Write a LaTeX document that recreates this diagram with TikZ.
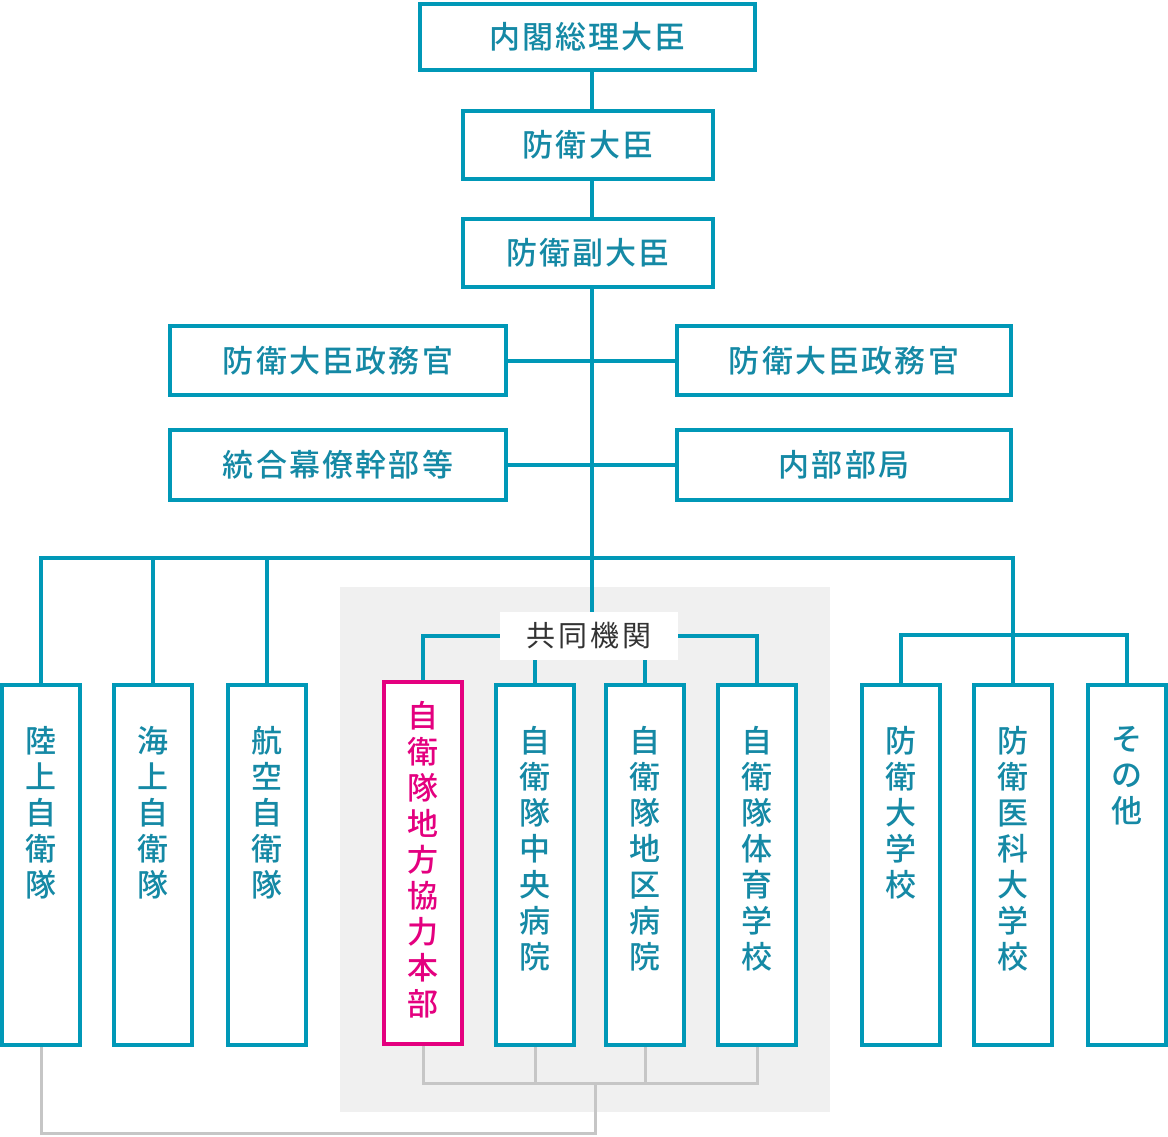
\documentclass[tikz,border=0pt]{standalone}
\usepackage{fontspec}
\newfontfamily\jp{Noto Sans CJK JP Medium}
\newfontfamily\jpls{Noto Sans CJK JP Medium}[LetterSpace=7]
\newfontfamily\jplab{Noto Sans CJK JP}[LetterSpace=10]
\definecolor{tealline}{HTML}{0098B7}
\definecolor{tealtext}{HTML}{1589A5}
\definecolor{mag}{HTML}{E4007F}
\definecolor{grayline}{HTML}{C6C6C6}
\definecolor{graybg}{HTML}{F0F0F0}
\definecolor{labtext}{HTML}{333333}
\tikzset{
  hbox/.style={draw=tealline, line width=4pt, fill=white, inner sep=0pt,
    text=tealtext, font=\jpls\fontsize{31}{34}\selectfont},
  vbox/.style={draw=tealline, line width=4pt, fill=white, inner sep=0pt,
    minimum width=78pt, minimum height=360pt},
  vlab/.style={anchor=north, yshift=-43pt, inner sep=0pt, align=center,
    text=tealtext, font=\jp\fontsize{31}{36}\selectfont},
  tline/.style={draw=tealline, line width=4pt},
  gline/.style={draw=grayline, line width=3pt},
}
\begin{document}
\begin{tikzpicture}[x=1pt, y=-1pt]
\useasboundingbox (0,0) rectangle (1168,1137);
% gray background of the joint organisations
\fill[graybg] (340,587) rectangle (830,1112);

% top chain
\node[hbox, minimum width=335pt, minimum height=66pt] (naikaku) at (587.5,37) {内閣総理大臣};
\node[hbox, minimum width=250pt, minimum height=68pt] (boei) at (588,145) {防衛大臣};
\node[hbox, minimum width=250pt, minimum height=68pt] (fuku) at (588,253) {防衛副大臣};
\node[hbox, minimum width=336pt, minimum height=69pt] (seimuL) at (338,360.5) {防衛大臣政務官};
\node[hbox, minimum width=334pt, minimum height=69pt] (seimuR) at (844,360.5) {防衛大臣政務官};
\node[hbox, minimum width=336pt, minimum height=70pt] (togo) at (338,465) {統合幕僚幹部等};
\node[hbox, minimum width=334pt, minimum height=70pt] (naibu) at (844,465) {内部部局};

% label of the joint organisations
\node[fill=white, minimum width=178pt, minimum height=48pt, inner sep=0pt,
  text=labtext, font=\jplab\fontsize{29}{30}\selectfont] (kyodo) at (589,636) {共同機関};

% bottom row
\node[vbox, label={[vlab]north:{陸\\上\\自\\衛\\隊}}] (riku) at (41,865) {};
\node[vbox, label={[vlab]north:{海\\上\\自\\衛\\隊}}] (kai) at (153,865) {};
\node[vbox, label={[vlab]north:{航\\空\\自\\衛\\隊}}] (ku) at (267,865) {};
\node[vbox, draw=mag, minimum height=362pt,
  label={[vlab, text=mag, yshift=22pt]north:{自\\衛\\隊\\地\\方\\協\\力\\本\\部}}] (chiho) at (423,863) {};
\node[vbox, label={[vlab]north:{自\\衛\\隊\\中\\央\\病\\院}}] (chuo) at (535,865) {};
\node[vbox, label={[vlab]north:{自\\衛\\隊\\地\\区\\病\\院}}] (chiku) at (645,865) {};
\node[vbox, label={[vlab]north:{自\\衛\\隊\\体\\育\\学\\校}}] (taiiku) at (757,865) {};
\node[vbox, label={[vlab]north:{防\\衛\\大\\学\\校}}] (boeidai) at (901,865) {};
\node[vbox, label={[vlab]north:{防\\衛\\医\\科\\大\\学\\校}}] (ika) at (1013,865) {};
\node[vbox, label={[vlab]north:{そ\\の\\他}}] (sonota) at (1127,865) {};

% coordinates for the trunk and bars
\coordinate (T) at (592,0);
\coordinate (bar) at (0,558);
\coordinate (rbar) at (0,635);
\coordinate (gb) at (0,1083);
\coordinate (gl) at (595,1133);

% teal connectors
\draw[tline] (naikaku.south -| T) -- (boei.north -| T);
\draw[tline] (boei.south -| T) -- (fuku.north -| T);
\draw[tline] (fuku.south -| T) -- (kyodo.north -| T);
\draw[tline] (seimuL.east) -- (seimuR.west);
\draw[tline] (togo.east) -- (naibu.west);
\draw[tline] (riku.north) -- (riku.north |- bar) -- (ika.north |- bar) -- (ika.north);
\draw[tline] (kai.north) -- (kai.north |- bar);
\draw[tline] (ku.north) -- (ku.north |- bar);
\draw[tline] (boeidai.north) -- (boeidai.north |- rbar) -- (sonota.north |- rbar) -- (sonota.north);
\draw[tline] (chiho.north) -- (chiho.north |- kyodo.west) -- (kyodo.west);
\draw[tline] (kyodo.east) -- (taiiku.north |- kyodo.east) -- (taiiku.north);
\draw[tline] (kyodo.south -| chuo.north) -- (chuo.north);
\draw[tline] (kyodo.south -| chiku.north) -- (chiku.north);

% gray connectors
\draw[gline] (chiho.south) -- (chiho.south |- gb) -- (taiiku.south |- gb) -- (taiiku.south);
\draw[gline] (chuo.south) -- (chuo.south |- gb);
\draw[gline] (chiku.south) -- (chiku.south |- gb);
\draw[gline] (riku.south) -- (riku.south |- gl) -- (gl) -- (gl |- gb);
\end{tikzpicture}
\end{document}
